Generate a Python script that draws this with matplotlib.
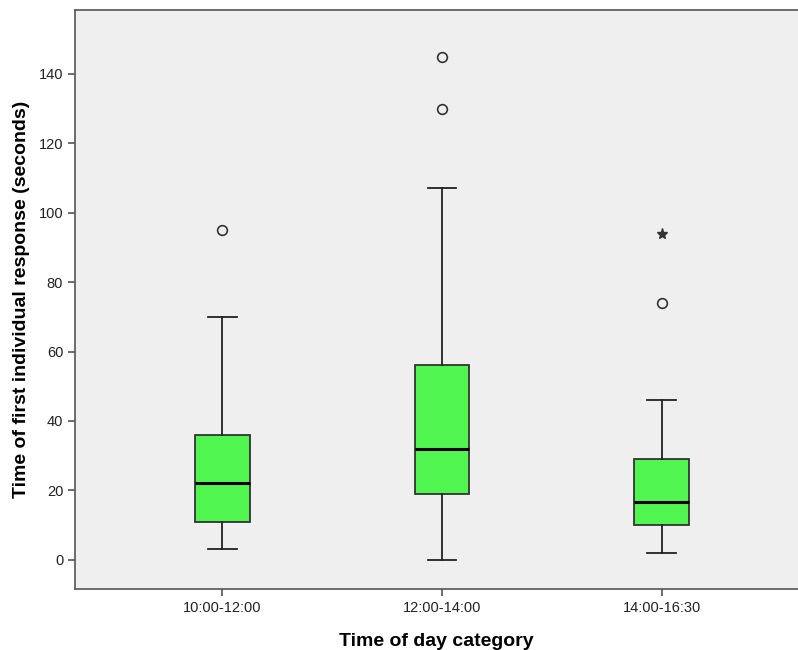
import matplotlib
matplotlib.use('Agg')
import matplotlib.pyplot as plt

plt.rcParams['font.family'] = ['Liberation Sans', 'DejaVu Sans']

# --- data ---
categories = ['10:00-12:00', '12:00-14:00', '14:00-16:30']
whisker_low = [3, 0, 2]
q1 = [11, 19, 10]
median = [22, 32, 16.5]
q3 = [36, 56, 29]
whisker_high = [70, 107, 46]
outliers_circle = [[95], [130, 145], [74]]
outliers_star = [[], [], [94]]

stats = []
for i, name in enumerate(categories):
    stats.append({
        'label': name,
        'whislo': whisker_low[i], 'q1': q1[i], 'med': median[i],
        'q3': q3[i], 'whishi': whisker_high[i], 'fliers': outliers_circle[i],
    })

fig = plt.figure(figsize=(7.98, 6.5), dpi=100)
ax = fig.add_axes([0.094, 0.094, 0.906, 0.891])
ax.set_facecolor('#efefef')

positions = [1, 2, 3]
ax.bxp(stats, positions=positions, widths=0.25, patch_artist=True,
       boxprops=dict(facecolor='#50f550', edgecolor='#333333', linewidth=1.3),
       medianprops=dict(color='black', linewidth=2.2),
       whiskerprops=dict(color='#222222', linewidth=1.3),
       capprops=dict(color='#222222', linewidth=1.3),
       capwidths=0.13,
       flierprops=dict(marker='o', markersize=7, markerfacecolor='none',
                       markeredgecolor='#333333', markeredgewidth=1.2))

for pos, vals in zip(positions, outliers_star):
    if vals:
        ax.plot([pos] * len(vals), vals, linestyle='none', marker='*',
                markersize=8, color='#333333')

ax.set_xlim(0.33, 3.62)
ax.set_ylim(-8.4, 158.5)
ax.set_yticks(range(0, 141, 20))
ax.set_xticks(positions)
ax.set_xticklabels(categories)

for s in ['left', 'bottom', 'top']:
    ax.spines[s].set_color('#555555')
    ax.spines[s].set_linewidth(1.2)
ax.spines['right'].set_visible(False)
ax.tick_params(axis='both', direction='out', length=5, width=1.2,
               color='#555555', labelsize=10.5, labelcolor='#222222')

ax.set_xlabel('Time of day category', fontsize=14, fontweight='bold', labelpad=13)
ax.set_ylabel('Time of first individual response (seconds)', fontsize=14,
              fontweight='bold', labelpad=6)

fig.savefig('out.png', dpi=100)
